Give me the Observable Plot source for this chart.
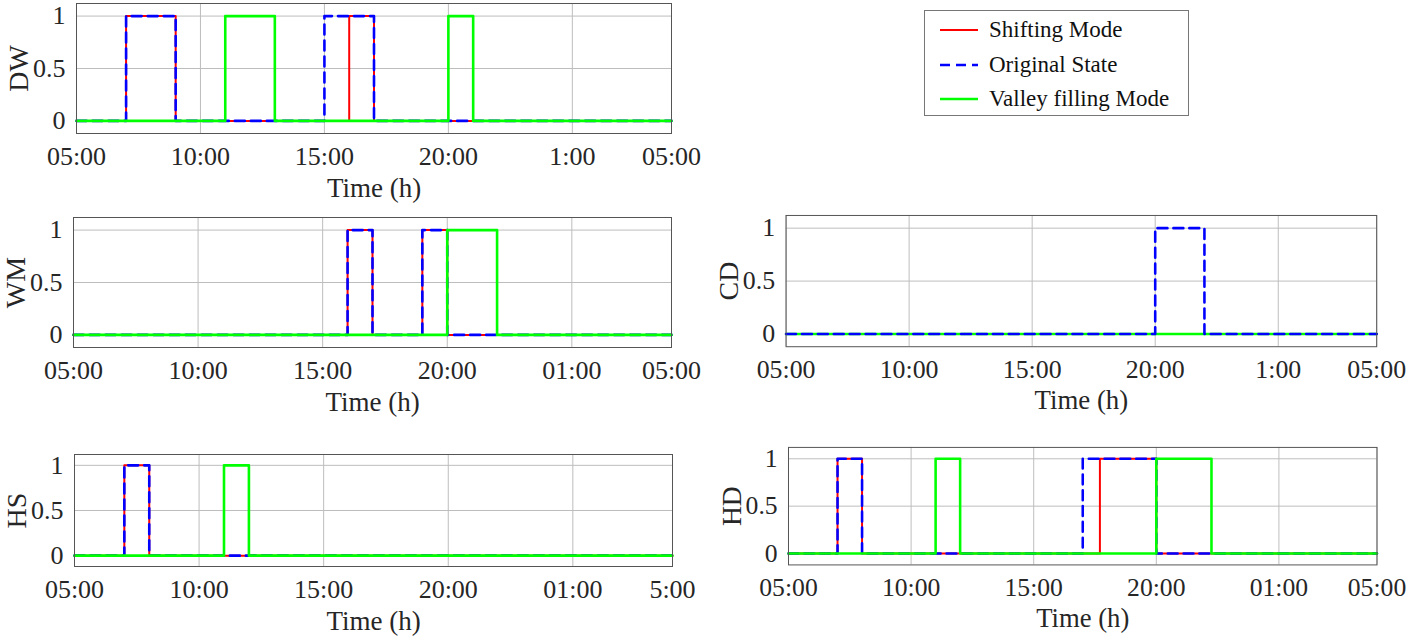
<!DOCTYPE html>
<html><head><meta charset="utf-8">
<script src="https://cdn.jsdelivr.net/npm/d3@7"></script>
<script src="https://cdn.jsdelivr.net/npm/@observablehq/plot@0.6"></script>
<style>
body{margin:0;background:#fff;}
#root{position:relative;width:1416px;height:641px;overflow:hidden;font-family:"Liberation Serif","Times New Roman",serif;}
.panel{position:absolute;}
.panel svg{overflow:visible;}
.panel svg text{font-family:"Liberation Serif","Times New Roman",serif;font-variant-numeric:normal;}
g[aria-label="y-axis label"] text{font-size:28px;}
g[aria-label="x-axis label"] text{font-size:27px;}
#legend{position:absolute;left:924px;top:10px;width:265px;height:106px;border:1px solid #777;box-sizing:border-box;background:#fff;}
#legend .row{position:absolute;left:14px;height:30px;display:flex;align-items:center;font-size:23px;color:#111;}
#legend .row svg{margin-right:10px;}
</style></head><body><div id="root"></div><script>
// x axis: hours, 29 = 05:00 next day
const timeTicks = [5, 10, 15, 20, 25, 29];
const tickLabelsDW = ["05:00", "10:00", "15:00", "20:00", "1:00", "05:00"];
const tickLabelsWM = ["05:00", "10:00", "15:00", "20:00", "01:00", "05:00"];
const tickLabelsCD = ["05:00", "10:00", "15:00", "20:00", "1:00", "05:00"];
const tickLabelsHS = ["05:00", "10:00", "15:00", "20:00", "01:00", "5:00"];
const tickLabelsHD = ["05:00", "10:00", "15:00", "20:00", "01:00", "05:00"];
const stateTicks = [0, 0.5, 1];
const stateTickLabels = ["0", "0.5", "1"];

const seriesNames = ["Shifting Mode", "Original State", "Valley filling Mode"];

// step series: [time (h), on/off state]
const dwShifting = [[5,0],[7,1],[9,0],[16,1],[17,0],[29,0]];
const dwOriginal = [[5,0],[7,1],[9,0],[15,1],[17,0],[29,0]];
const dwValley   = [[5,0],[11,1],[13,0],[20,1],[21,0],[29,0]];

const wmShifting = [[5,0],[16,1],[17,0],[19,1],[20,0],[29,0]];
const wmOriginal = [[5,0],[16,1],[17,0],[19,1],[20,0],[29,0]];
const wmValley   = [[5,0],[20,1],[22,0],[29,0]];

const cdShifting = [[5,0],[29,0]];
const cdOriginal = [[5,0],[20,1],[22,0],[29,0]];
const cdValley   = [[5,0],[29,0]];

const hsShifting = [[5,0],[7,1],[8,0],[29,0]];
const hsOriginal = [[5,0],[7,1],[8,0],[29,0]];
const hsValley   = [[5,0],[11,1],[12,0],[29,0]];

const hdShifting = [[5,0],[7,1],[8,0],[17.7,1],[20,0],[29,0]];
const hdOriginal = [[5,0],[7,1],[8,0],[17,1],[20,0],[29,0]];
const hdValley   = [[5,0],[11,1],[12,0],[20,1],[22.25,0],[29,0]];

const styles = {
  shifting: {stroke: "#ff0000", strokeWidth: 2},
  original: {stroke: "#0000ff", strokeWidth: 2.6, strokeDasharray: "10,6"},
  valley:   {stroke: "#00ff00", strokeWidth: 2.6}
};

const root = document.getElementById("root");
const ML = 80, MR = 40, MT = 6, MB = 80;
const FONT = "'Liberation Serif', 'Times New Roman', serif";

function panel(cfg) {
  const [x0, x1, y0, y1] = cfg.frame;
  const width = x1 - x0 + ML + MR, height = y1 - y0 + MT + MB;
  const line = (d, s) => Plot.line(d, {x: p => p[0], y: p => p[1], curve: "step-after", ...styles[s]});
  const lines = cfg.order.map(([d, s]) => line(d, s));
  const svg = Plot.plot({
    width, height, marginLeft: ML, marginRight: MR, marginTop: MT, marginBottom: MB,
    style: {fontFamily: FONT, fontSize: "26px", color: "#262626", background: "transparent", overflow: "visible"},
    x: {domain: [5, 29]},
    y: {domain: [-0.12, 1.12]},
    marks: [
      Plot.gridX(timeTicks, {stroke: "#bdbdbd", strokeOpacity: 1, strokeWidth: 1}),
      Plot.gridY(stateTicks, {stroke: "#bdbdbd", strokeOpacity: 1, strokeWidth: 1}),
      Plot.axisX(timeTicks, {tickSize: 0, tickPadding: 13, fontSize: 26, fontFamily: FONT, tickFormat: d => cfg.tickLabels[timeTicks.indexOf(d)],
        label: "Time (h)", labelAnchor: "center", labelOffset: 63, labelArrow: "none"}),
      Plot.axisY(stateTicks, {tickSize: 0, tickPadding: 11, fontSize: 26, fontFamily: FONT, tickFormat: d => stateTickLabels[stateTicks.indexOf(d)],
        label: cfg.ylabel, labelAnchor: "center", labelOffset: 68, labelArrow: "none"}),
      ...lines,
      Plot.frame({stroke: "#555", strokeWidth: 1})
    ]
  });
  const div = document.createElement("div");
  div.className = "panel";
  div.style.left = (x0 - ML) + "px";
  div.style.top = (y0 - MT) + "px";
  div.appendChild(svg);
  root.appendChild(div);
}

panel({ylabel: "DW", tickLabels: tickLabelsDW, frame: [76, 671, 3, 133],
  order: [[dwShifting, "shifting"], [dwOriginal, "original"], [dwValley, "valley"]]});
panel({ylabel: "WM", tickLabels: tickLabelsWM, frame: [73, 671, 217, 347],
  order: [[wmShifting, "shifting"], [wmOriginal, "original"], [wmValley, "valley"]]});
panel({ylabel: "CD", tickLabels: tickLabelsCD, frame: [786, 1380, 215, 347],
  order: [[cdShifting, "shifting"], [cdValley, "valley"], [cdOriginal, "original"]]});
panel({ylabel: "HS", tickLabels: tickLabelsHS, frame: [74, 672, 454, 566],
  order: [[hsShifting, "shifting"], [hsOriginal, "original"], [hsValley, "valley"]]});
panel({ylabel: "HD", tickLabels: tickLabelsHD, frame: [789, 1385, 447, 566],
  order: [[hdShifting, "shifting"], [hdOriginal, "original"], [hdValley, "valley"]]});

// legend
const legend = document.createElement("div");
legend.id = "legend";
const legendKeys = ["shifting", "original", "valley"];
seriesNames.forEach((name, i) => {
  const row = document.createElement("div");
  row.className = "row";
  row.style.top = (4 + i * 34.5) + "px";
  const s = styles[legendKeys[i]];
  row.innerHTML = `<svg width="40" height="6"><line x1="1" y1="3" x2="39" y2="3" stroke="${s.stroke}" stroke-width="${s.strokeWidth}" ${s.strokeDasharray ? `stroke-dasharray="10,6"` : ""}/></svg><span>${name}</span>`;
  legend.appendChild(row);
});
root.appendChild(legend);
</script></body></html>
